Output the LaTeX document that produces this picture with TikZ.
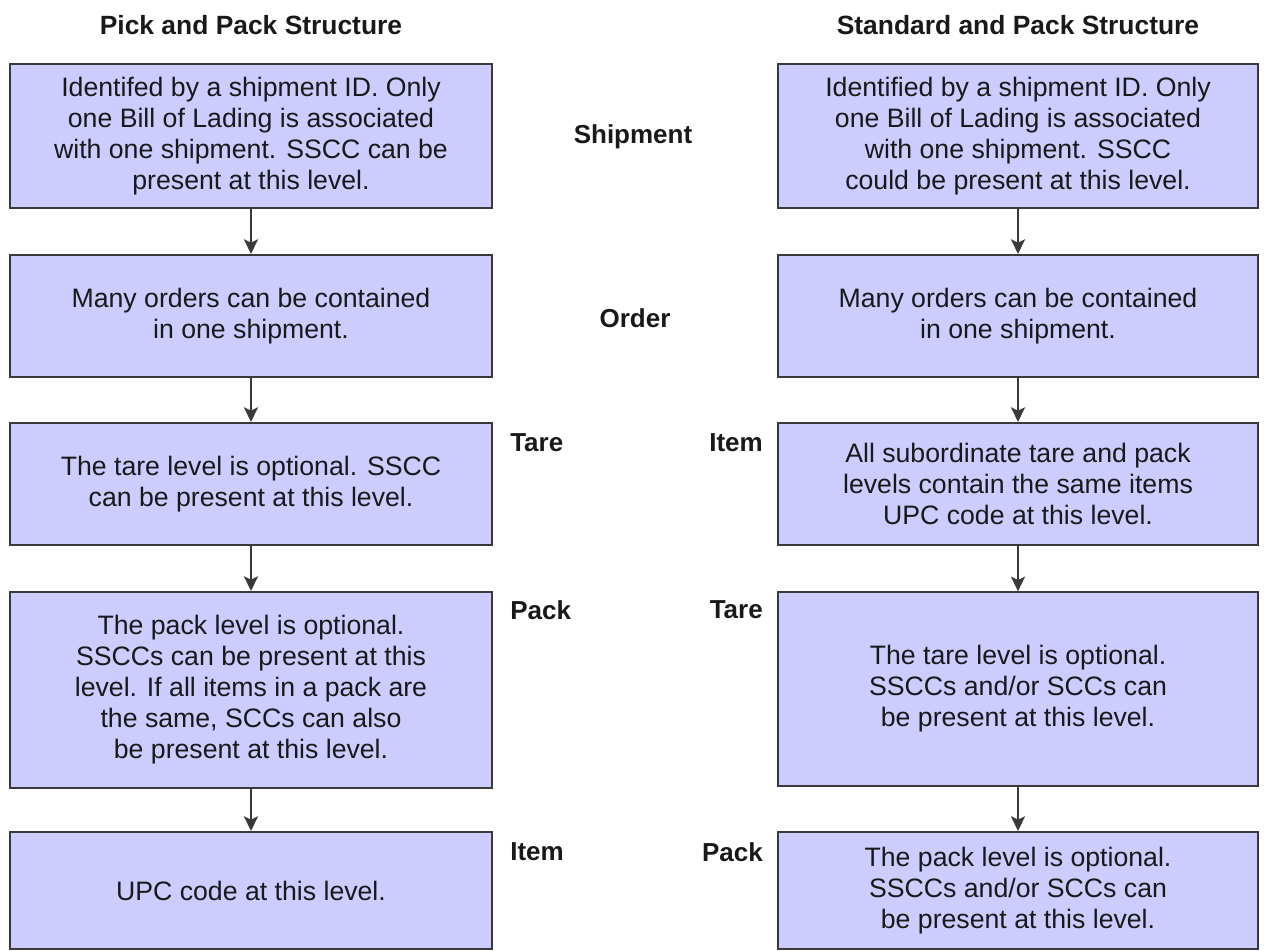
\documentclass[tikz,border=0pt]{standalone}
\usepackage{fontspec}
\setmainfont{Liberation Sans}
\usetikzlibrary{arrows.meta}
\definecolor{boxfill}{HTML}{CCCCFF}
\definecolor{boxline}{HTML}{3A3A3A}
\begin{document}
\begin{tikzpicture}[x=0.75pt,y=-0.75pt,
  box/.style={draw=boxline,line width=1.5pt,fill=boxfill,rectangle,inner sep=0pt,
    align=center,font=\fontsize{20}{23.25}\selectfont,text=black!90},
  lbox/.style={box,minimum width=361.5pt},
  rbox/.style={box,minimum width=360pt},
  lbl/.style={font=\bfseries\fontsize{19.5}{23}\selectfont,inner sep=0pt,text=black!90},
  ttl/.style={font=\bfseries\fontsize{19.8}{23}\selectfont,inner sep=0pt,text=black!90},
  conn/.style={draw=boxline,line width=1.5pt,-{Stealth[length=11pt,width=10.5pt,inset=2.5pt]}}]
\useasboundingbox (0,0) rectangle (1264,950);
% titles
\node[ttl] (t1) at (251,25) {Pick and Pack Structure};
\node[ttl] (t2) at (1018,25) {Standard and Pack Structure};
% left column
\node[lbox,minimum height=108pt] (l1) at (251,136)
  {Identifed by a shipment ID. Only\\one Bill of Lading is associated\\with one shipment. SSCC can be\\present at this level.};
\node[lbox,minimum height=91.5pt] (l2) at (251,316)
  {Many orders can be contained\\in one shipment.};
\node[lbox,minimum height=91.5pt] (l3) at (251,484)
  {The tare level is optional. SSCC\\can be present at this level.};
\node[lbox,minimum height=147pt] (l4) at (251,690)
  {The pack level is optional.\\SSCCs can be present at this\\level. If all items in a pack are\\the same, SCCs can also\\be present at this level.};
\node[lbox,minimum height=87.75pt] (l5) at (251,890.5)
  {UPC code at this level.};
% right column
\node[rbox,minimum height=108pt] (r1) at (1018,136)
  {Identified by a shipment ID. Only\\one Bill of Lading is associated\\with one shipment. SSCC\\could be present at this level.};
\node[rbox,minimum height=91.5pt] (r2) at (1018,316)
  {Many orders can be contained\\in one shipment.};
\node[rbox,minimum height=91.5pt] (r3) at (1018,484)
  {All subordinate tare and pack\\levels contain the same items\\UPC code at this level.};
\node[rbox,minimum height=145pt] (r4) at (1018,689)
  {The tare level is optional.\\SSCCs and/or SCCs can\\be present at this level.};
\node[rbox,minimum height=87.75pt] (r5) at (1018,890.5)
  {The pack level is optional.\\SSCCs and/or SCCs can\\be present at this level.};
% level labels
\node[lbl] (s) at (633,137) {Shipment};
\node[lbl] (o) at (635,318) {Order};
\node[lbl,anchor=west] (lt) at (510,443) {Tare};
\node[lbl,anchor=east] (ri) at (763,443) {Item};
\node[lbl,anchor=west] (lp) at (510,610) {Pack};
\node[lbl,anchor=east] (rt) at (763,610) {Tare};
\node[lbl,anchor=west] (li) at (510,852) {Item};
\node[lbl,anchor=east] (rp) at (763,852) {Pack};
% connectors
\foreach \a/\b in {l1/l2,l2/l3,l3/l4,l4/l5,r1/r2,r2/r3,r3/r4,r4/r5}
  \draw[conn] (\a.south) -- (\b.north);
\end{tikzpicture}
\end{document}
